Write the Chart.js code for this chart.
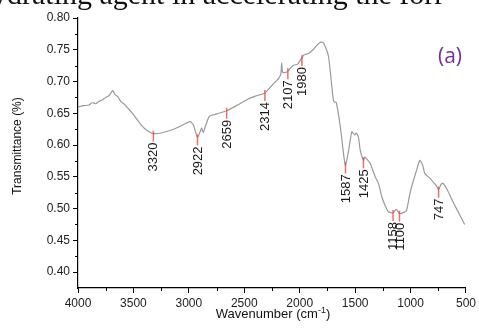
<!DOCTYPE html>
<html>
<head>
<meta charset="utf-8">
<script src="https://cdn.jsdelivr.net/npm/chart.js@4/dist/chart.umd.min.js"></script>
<style>
  html, body { margin: 0; padding: 0; background: #fff; overflow: hidden; }
  #wrap { position: relative; width: 479px; height: 331px; overflow: hidden; }
  #head { position: absolute; left: -8px; top: -21px; white-space: nowrap;
          font: 30px/30px "Liberation Serif", "Times New Roman", serif; color: #111; }
  #tag { position: absolute; left: 438px; top: 41px;
         font: 21px "Open Sans", sans-serif; color: #7030a0; }
  canvas { position: absolute; left: 0; top: 0; }
</style>
</head>
<body>
<div id="wrap">
  <canvas id="ftir" width="479" height="331"></canvas>
  <div id="head">ydrating agent in accelerating the forr</div>
  <div id="tag">(a)</div>
</div>
<script>
// spectrum
const wavenumbers = [4000, 3950, 3900, 3870, 3840, 3810, 3780, 3750, 3720, 3700, 3686, 3670, 3640, 3610, 3580, 3550,
  3500, 3450, 3400, 3350, 3320, 3250, 3150, 3050, 2990, 2960, 2935, 2922, 2900, 2885, 2870, 2850, 2815, 2750,
  2659, 2560, 2470, 2400, 2314, 2250, 2190, 2170, 2163, 2155, 2140, 2107, 2080, 2050, 2020, 1990, 1980, 1960,
  1920, 1880, 1828, 1800, 1780, 1740, 1700, 1690, 1670, 1634, 1600, 1587, 1560, 1544, 1529, 1505, 1490, 1470,
  1454, 1425, 1415, 1400, 1364, 1319, 1290, 1260, 1230, 1200, 1158, 1140, 1131, 1115, 1100, 1060, 1036, 1010,
  991, 950, 916, 890, 871, 826, 787, 760, 747, 725, 707, 670, 632, 580, 512];
const transmittance = [0.660, 0.662, 0.663, 0.667, 0.665, 0.669, 0.671, 0.675, 0.678, 0.683, 0.686, 0.680, 0.676, 0.668, 0.664, 0.658,
  0.648, 0.636, 0.626, 0.620, 0.618, 0.619, 0.624, 0.632, 0.637, 0.632, 0.618, 0.612, 0.620, 0.627, 0.620, 0.630, 0.645, 0.649,
  0.654, 0.663, 0.672, 0.677, 0.682, 0.694, 0.705, 0.712, 0.729, 0.715, 0.714, 0.716, 0.722, 0.726, 0.727, 0.735, 0.737, 0.742,
  0.744, 0.750, 0.760, 0.762, 0.759, 0.739, 0.675, 0.668, 0.667, 0.629, 0.580, 0.568, 0.590, 0.608, 0.621, 0.616, 0.619, 0.612,
  0.592, 0.576, 0.581, 0.579, 0.571, 0.550, 0.540, 0.519, 0.505, 0.495, 0.493, 0.497, 0.499, 0.496, 0.492, 0.494, 0.497, 0.520,
  0.534, 0.558, 0.576, 0.568, 0.555, 0.548, 0.540, 0.534, 0.530, 0.538, 0.540, 0.530, 0.516, 0.498, 0.475];
const peaks = [3320, 2922, 2659, 2314, 2107, 1980, 1587, 1425, 1158, 1100, 747];
const xTicks = [4000, 3500, 3000, 2500, 2000, 1500, 1000, 500];
const xMinor = [3750, 3250, 2750, 2250, 1750, 1250, 750];
const yTicks = [0.40, 0.45, 0.50, 0.55, 0.60, 0.65, 0.70, 0.75, 0.80];
const yMinor = [0.425, 0.475, 0.525, 0.575, 0.625, 0.675, 0.725, 0.775];

const FONT = '"Liberation Sans", Arial, sans-serif';

const extras = {
  id: 'extras',
  afterDraw(chart) {
    const ctx = chart.ctx;
    const xs = chart.scales.x, ys = chart.scales.y;
    const area = chart.chartArea;
    ctx.save();
    // minor ticks
    ctx.strokeStyle = '#000';
    ctx.lineWidth = 1;
    ctx.beginPath();
    xMinor.forEach(v => {
      const px = Math.round(xs.getPixelForValue(v)) + 0.5;
      ctx.moveTo(px, area.bottom); ctx.lineTo(px, area.bottom + 3);
    });
    yMinor.forEach(v => {
      const py = Math.round(ys.getPixelForValue(v)) + 0.5;
      ctx.moveTo(area.left, py); ctx.lineTo(area.left - 3, py);
    });
    ctx.stroke();

    // peak markers and labels
    ctx.font = '13px ' + FONT;
    ctx.fillStyle = '#1a1a1a';
    ctx.textAlign = 'right';
    ctx.textBaseline = 'middle';
    peaks.forEach(p => {
      const i = wavenumbers.indexOf(p);
      const px = xs.getPixelForValue(p);
      const py = ys.getPixelForValue(transmittance[i]);
      ctx.strokeStyle = 'rgba(240,70,70,0.8)';
      ctx.lineWidth = 1.5;
      ctx.beginPath();
      ctx.moveTo(px, py - 3); ctx.lineTo(px, py + 8);
      ctx.stroke();
      ctx.save();
      ctx.translate(px + 0.5, py + 9);
      ctx.rotate(-Math.PI / 2);
      ctx.fillText(String(p), 0, 0);
      ctx.restore();
    });

    // axis titles
    ctx.fillStyle = '#111';
    ctx.font = '12px ' + FONT;
    ctx.save();
    ctx.translate(18, 146);
    ctx.rotate(-Math.PI / 2);
    ctx.textAlign = 'center';
    ctx.fillText('Transmittance (%)', 0, 0);
    ctx.restore();

    ctx.textAlign = 'left';
    ctx.textBaseline = 'alphabetic';
    ctx.font = '13px ' + FONT;
    const a = 'Wavenumber (cm', b = '-1', c = ')';
    const wa = ctx.measureText(a).width, wc = ctx.measureText(c).width;
    ctx.font = '9px ' + FONT;
    const wb = ctx.measureText(b).width;
    let x0 = 273 - (wa + wb + wc) / 2;
    const base = 318;
    ctx.font = '13px ' + FONT;
    ctx.fillText(a, x0, base);
    ctx.font = '9px ' + FONT;
    ctx.fillText(b, x0 + wa, base - 5);
    ctx.font = '13px ' + FONT;
    ctx.fillText(c, x0 + wa + wb, base);
    ctx.restore();
  }
};

new Chart(document.getElementById('ftir'), {
  type: 'line',
  data: {
    datasets: [{
      data: wavenumbers.map((w, i) => ({ x: w, y: transmittance[i] })),
      borderColor: '#9a9a9a',
      borderWidth: 1.2,
      pointRadius: 0,
      tension: 0.2,
      fill: false
    }]
  },
  options: {
    responsive: false,
    animation: false,
    devicePixelRatio: 1,
    layout: { padding: { top: 18, right: 11, left: 0, bottom: 0 } },
    plugins: { legend: { display: false }, tooltip: { enabled: false } },
    scales: {
      x: {
        type: 'linear',
        reverse: true,
        min: 500,
        max: 4000,
        afterBuildTicks: s => { s.ticks = xTicks.map(v => ({ value: v })); },
        afterFit: s => { s.height = 43; },
        ticks: { color: '#222', font: { size: 12, family: FONT }, padding: 3, maxRotation: 0, autoSkip: false,
                 callback: v => String(v) },
        grid: { drawOnChartArea: false, drawTicks: true, tickLength: 5, color: '#000' },
        border: { display: true, color: '#000', width: 1.2 }
      },
      y: {
        min: 0.375,
        max: 0.80,
        afterBuildTicks: s => { s.ticks = yTicks.map(v => ({ value: v })); },
        afterFit: s => { s.width = 78; },
        ticks: { color: '#222', font: { size: 12, family: FONT }, padding: 3, callback: v => v.toFixed(2) },
        grid: { drawOnChartArea: false, drawTicks: true, tickLength: 5, color: '#000' },
        border: { display: true, color: '#000', width: 1.2 }
      }
    }
  },
  plugins: [extras]
});
</script>
</body>
</html>
